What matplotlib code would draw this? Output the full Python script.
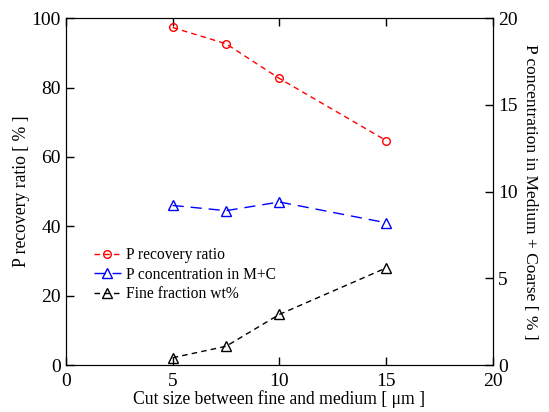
import matplotlib
matplotlib.use("Agg")
import matplotlib.pyplot as plt

plt.rcParams['font.family'] = ['Liberation Serif', 'DejaVu Serif']

cut_size = [5, 7.5, 10, 15]
recovery = [97.3, 92.6, 82.6, 64.7]
conc_mc = [9.2, 8.9, 9.4, 8.2]
fine_frac = [2.1, 5.4, 14.6, 28.0]

fig = plt.figure(figsize=(5.49, 4.12), dpi=100)
ax = fig.add_axes([0.120, 0.114, 0.778, 0.842])
ax2 = ax.twinx()

l1, = ax.plot(cut_size, recovery, color='red', ls=(0, (4, 3)), lw=1,
              marker='o', mfc='none', mec='red', ms=5.5, label='P recovery ratio')
l3, = ax.plot(cut_size, fine_frac, color='black', ls=(0, (4, 3)), lw=1,
              marker='^', mfc='none', mec='black', ms=6.5, label='Fine fraction wt%')
l2, = ax2.plot(cut_size, conc_mc, color='blue', ls=(0, (8, 5)), lw=1,
               marker='^', mfc='none', mec='blue', ms=6.5, label='P concentration in M+C')

ax.set_xlim(0, 20)
ax.set_ylim(0, 100)
ax2.set_ylim(0, 20)
ax.set_xticks([0, 5, 10, 15, 20])
ax.set_yticks([0, 20, 40, 60, 80, 100])
ax2.set_yticks([0, 5, 10, 15, 20])

ax.tick_params(direction='in', top=True, labelsize=14, length=6, width=1)
ax.tick_params(axis='x', pad=6)
ax2.tick_params(direction='in', labelsize=14, length=6, width=1)

ax.set_xlabel('Cut size between fine and medium [ μm ]', fontsize=12.7, labelpad=0)
ax.set_ylabel('P recovery ratio [ % ]', fontsize=12.7, labelpad=1)
ax2.set_ylabel('P concentration in Medium + Coarse [ % ]', fontsize=12.5,
               rotation=270, labelpad=15)

ax.legend([l1, l2, l3], [l1.get_label(), l2.get_label(), l3.get_label()],
          loc='upper left', bbox_to_anchor=(0.048, 0.362), frameon=False,
          fontsize=11.2, handlelength=1.7, handletextpad=0.35, labelspacing=0.22,
          borderpad=0)

fig.savefig('out.png', dpi=100)
